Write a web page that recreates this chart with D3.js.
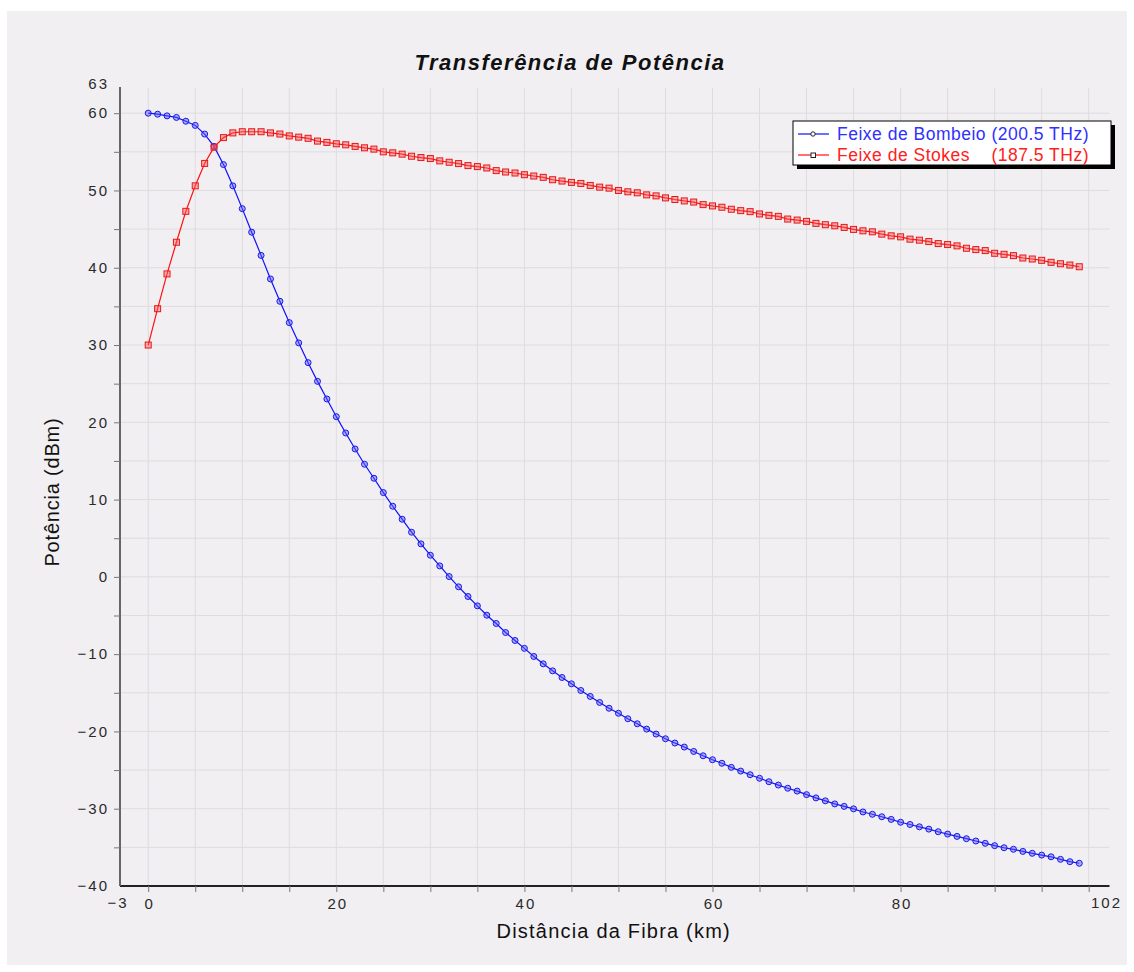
<!DOCTYPE html>
<html lang="pt">
<head>
  <meta charset="UTF-8">
  <script src="https://d3js.org/d3.v7.min.js"></script>
  <title>Transferência de Potência</title>
  <style>
    body { margin: 0; background: #fff; font-family: Arial, "Liberation Sans", sans-serif; }
    .grid line { stroke: #dedcdf; stroke-width: 1; }
    .tick text, .end-label { font-family: Arial, "Liberation Sans", sans-serif; font-size: 15px; fill: #2a2a2a; letter-spacing: 2px; }
  </style>
</head>
<body>
  <svg id="chart" width="1134" height="972"></svg>
  <script>
    // distância (km)
    const distance = [0,1,2,3,4,5,6,7,8,9,10,11,12,13,14,15,16,17,18,19,20,21,22,23,24,25,26,27,28,29,
      30,31,32,33,34,35,36,37,38,39,40,41,42,43,44,45,46,47,48,49,50,51,52,53,54,55,56,57,58,59,
      60,61,62,63,64,65,66,67,68,69,70,71,72,73,74,75,76,77,78,79,80,81,82,83,84,85,86,87,88,89,
      90,91,92,93,94,95,96,97,98,99];

    // Feixe de Bombeio (dBm)
    const pump = [60.0,59.87,59.65,59.45,58.96,58.42,57.3,55.7,53.35,50.6,47.65,44.6,41.6,38.55,35.66,32.9,30.28,27.72,25.3,23.02,
      20.73,18.62,16.55,14.57,12.76,10.91,9.14,7.46,5.78,4.27,2.8,1.42,0.04,-1.29,-2.54,-3.75,-4.96,-6.03,-7.2,-8.23,
      -9.25,-10.3,-11.25,-12.16,-13.02,-13.84,-14.7,-15.47,-16.25,-17.0,-17.65,-18.36,-19.01,-19.7,-20.34,-20.95,-21.5,-22.02,-22.59,-23.15,
      -23.66,-24.12,-24.65,-25.13,-25.6,-26.06,-26.51,-26.94,-27.35,-27.72,-28.18,-28.6,-28.98,-29.38,-29.7,-30.02,-30.42,-30.72,-31.04,-31.38,
      -31.75,-32.04,-32.34,-32.64,-32.98,-33.28,-33.58,-33.88,-34.18,-34.48,-34.78,-35.05,-35.25,-35.52,-35.77,-36.0,-36.22,-36.55,-36.85,-37.06];

    // Feixe de Stokes (dBm)
    const stokes = [30.0,34.7,39.2,43.3,47.3,50.6,53.5,55.6,56.84,57.45,57.6,57.6,57.6,57.45,57.3,57.06,56.9,56.75,56.39,56.22,
      56.04,55.91,55.7,55.52,55.35,55.0,54.87,54.7,54.43,54.26,54.13,53.83,53.65,53.48,53.22,53.09,52.91,52.57,52.39,52.26,
      52.04,51.87,51.7,51.39,51.22,51.04,50.91,50.65,50.43,50.3,50.0,49.83,49.7,49.43,49.3,49.04,48.83,48.65,48.5,48.17,
      48.0,47.83,47.57,47.39,47.26,46.96,46.78,46.65,46.3,46.17,46.0,45.74,45.57,45.43,45.22,44.96,44.78,44.65,44.35,44.13,
      44.0,43.7,43.57,43.39,43.13,43.0,42.83,42.52,42.35,42.22,41.87,41.74,41.57,41.26,41.13,40.96,40.7,40.52,40.35,40.13];

    const xTicks = [0,5,10,15,20,25,30,35,40,45,50,55,60,65,70,75,80,85,90,95,100];
    const xLabels = [0,20,40,60,80];
    const yTicks = [-35,-30,-25,-20,-15,-10,-5,0,5,10,15,20,25,30,35,40,45,50,55,60];
    const yLabels = [-40,-30,-20,-10,0,10,20,30,40,50,60];

    const margin = { left: 120, right: 1107.5, top: 90, bottom: 886 };

    const svg = d3.select("#chart");

    svg.append("rect")
      .attr("x", 7).attr("y", 11)
      .attr("width", 1120).attr("height", 954)
      .attr("fill", "#f1eff2");

    const x = d3.scaleLinear().domain([-3, 102]).range([margin.left, margin.right]);
    const y = d3.scaleLinear().domain([-40, 63]).range([margin.bottom, margin.top]);

    // grid
    const grid = svg.append("g").attr("class", "grid");
    grid.selectAll(".vg").data(xTicks).enter().append("line")
      .attr("x1", d => x(d)).attr("x2", d => x(d))
      .attr("y1", margin.top - 2).attr("y2", margin.bottom);
    grid.selectAll(".hg").data(yTicks).enter().append("line")
      .attr("x1", margin.left).attr("x2", margin.right + 2)
      .attr("y1", d => y(d)).attr("y2", d => y(d));

    // axes
    const fmt = v => v < 0 ? "\u2212" + Math.abs(v) : String(v);

    const xAxis = svg.append("g")
      .attr("transform", `translate(0,${margin.bottom})`)
      .call(d3.axisBottom(x).tickValues(xTicks).tickSizeInner(6).tickSizeOuter(0)
        .tickFormat(d => xLabels.includes(d) ? fmt(d) : ""));
    xAxis.select(".domain").attr("stroke", "#222").attr("stroke-width", 2)
      .attr("d", `M${margin.left},0H${margin.right + 2}`);
    xAxis.selectAll(".tick line").attr("stroke", "#777");
    xAxis.selectAll(".tick text").attr("dy", "0.9em").attr("dx", "1px");
    xAxis.append("text").attr("class", "end-label").attr("x", x(-3) - 2).attr("y", 22)
      .attr("text-anchor", "middle").text(fmt(-3));
    xAxis.append("text").attr("class", "end-label").attr("x", x(102) - 1).attr("y", 22)
      .attr("text-anchor", "middle").text("102");

    const yAxis = svg.append("g")
      .attr("transform", `translate(${margin.left},0)`)
      .call(d3.axisLeft(y).tickValues(yTicks.concat([-40])).tickSizeInner(6).tickSizeOuter(0)
        .tickFormat(d => yLabels.includes(d) ? fmt(d) : ""));
    yAxis.select(".domain").attr("stroke", "#666").attr("stroke-width", 2)
      .attr("d", `M0,${margin.top - 3}V${margin.bottom}`);
    yAxis.selectAll(".tick line").attr("stroke", "#777");
    yAxis.selectAll(".tick").filter(d => d === -40).select("line").remove();
    yAxis.selectAll(".tick text").attr("x", -11);
    yAxis.append("text").attr("class", "end-label").attr("x", -11).attr("y", y(63) - 6).attr("dy", "0.32em")
      .attr("text-anchor", "end").text("63");

    // titles
    svg.append("text")
      .attr("x", 570).attr("y", 70)
      .attr("text-anchor", "middle")
      .style("font-size", "22px").style("font-weight", "bold").style("font-style", "italic")
      .style("letter-spacing", "1.5px")
      .attr("fill", "#111")
      .text("Transferência de Potência");

    svg.append("text")
      .attr("x", (margin.left + margin.right) / 2).attr("y", 938)
      .attr("text-anchor", "middle")
      .style("font-size", "20px").style("letter-spacing", "1.2px").attr("fill", "#111")
      .text("Distância da Fibra (km)");

    svg.append("text")
      .attr("transform", `translate(59,${(margin.top + margin.bottom) / 2 + 4}) rotate(-90)`)
      .attr("text-anchor", "middle")
      .style("font-size", "20px").style("letter-spacing", "0.8px").attr("fill", "#111")
      .text("Potência (dBm)");

    // series
    const series = [
      { name: "Feixe de Bombeio (200.5 THz)", values: pump, color: "#1010ff", text: "#3030ff", marker: "circle" },
      { name: "Feixe de Stokes    (187.5 THz)", values: stokes, color: "#ff1010", text: "#ff2020", marker: "square" }
    ];

    const line = d3.line().x(d => x(d[0])).y(d => y(d[1]));

    series.forEach(s => {
      const pts = distance.map((d, i) => [d, s.values[i]]);
      svg.append("path")
        .datum(pts)
        .attr("fill", "none")
        .attr("stroke", s.color)
        .attr("stroke-width", 1.2)
        .attr("d", line);

      if (s.marker === "circle") {
        svg.append("g").selectAll("circle").data(pts).enter().append("circle")
          .attr("cx", d => x(d[0])).attr("cy", d => y(d[1])).attr("r", 3)
          .attr("fill", "rgba(90,90,255,0.45)").attr("stroke", "#1818e8").attr("stroke-width", 1);
      } else {
        svg.append("g").selectAll("rect").data(pts).enter().append("rect")
          .attr("x", d => x(d[0]) - 3).attr("y", d => y(d[1]) - 3)
          .attr("width", 6).attr("height", 6)
          .attr("fill", "rgba(255,90,90,0.45)").attr("stroke", "#e81818").attr("stroke-width", 1);
      }
    });

    // legend
    const legend = svg.append("g").attr("transform", "translate(793,121)");
    legend.append("rect").attr("x", 4).attr("y", 4).attr("width", 318).attr("height", 44).attr("fill", "#000");
    legend.append("rect").attr("x", 0).attr("y", 0).attr("width", 318).attr("height", 44)
      .attr("fill", "#fff").attr("stroke", "#000").attr("stroke-width", 1);

    series.forEach((s, i) => {
      const ly = 13 + i * 21;
      legend.append("line").attr("x1", 5).attr("x2", 36).attr("y1", ly).attr("y2", ly)
        .attr("stroke", s.color).attr("stroke-width", 1.2);
      if (s.marker === "circle") {
        legend.append("circle").attr("cx", 20).attr("cy", ly).attr("r", 2.2)
          .attr("fill", "#fff").attr("stroke", "#222");
      } else {
        legend.append("rect").attr("x", 18).attr("y", ly - 2).attr("width", 4.5).attr("height", 4.5)
          .attr("fill", "#fff").attr("stroke", "#222");
      }
      legend.append("text").attr("x", 44).attr("y", ly).attr("dy", "0.36em")
        .attr("xml:space", "preserve").style("white-space", "pre")
        .style("font-size", "17.5px").style("letter-spacing", "0.5px").attr("fill", s.text)
        .text(s.name);
    });
  </script>
</body>
</html>
